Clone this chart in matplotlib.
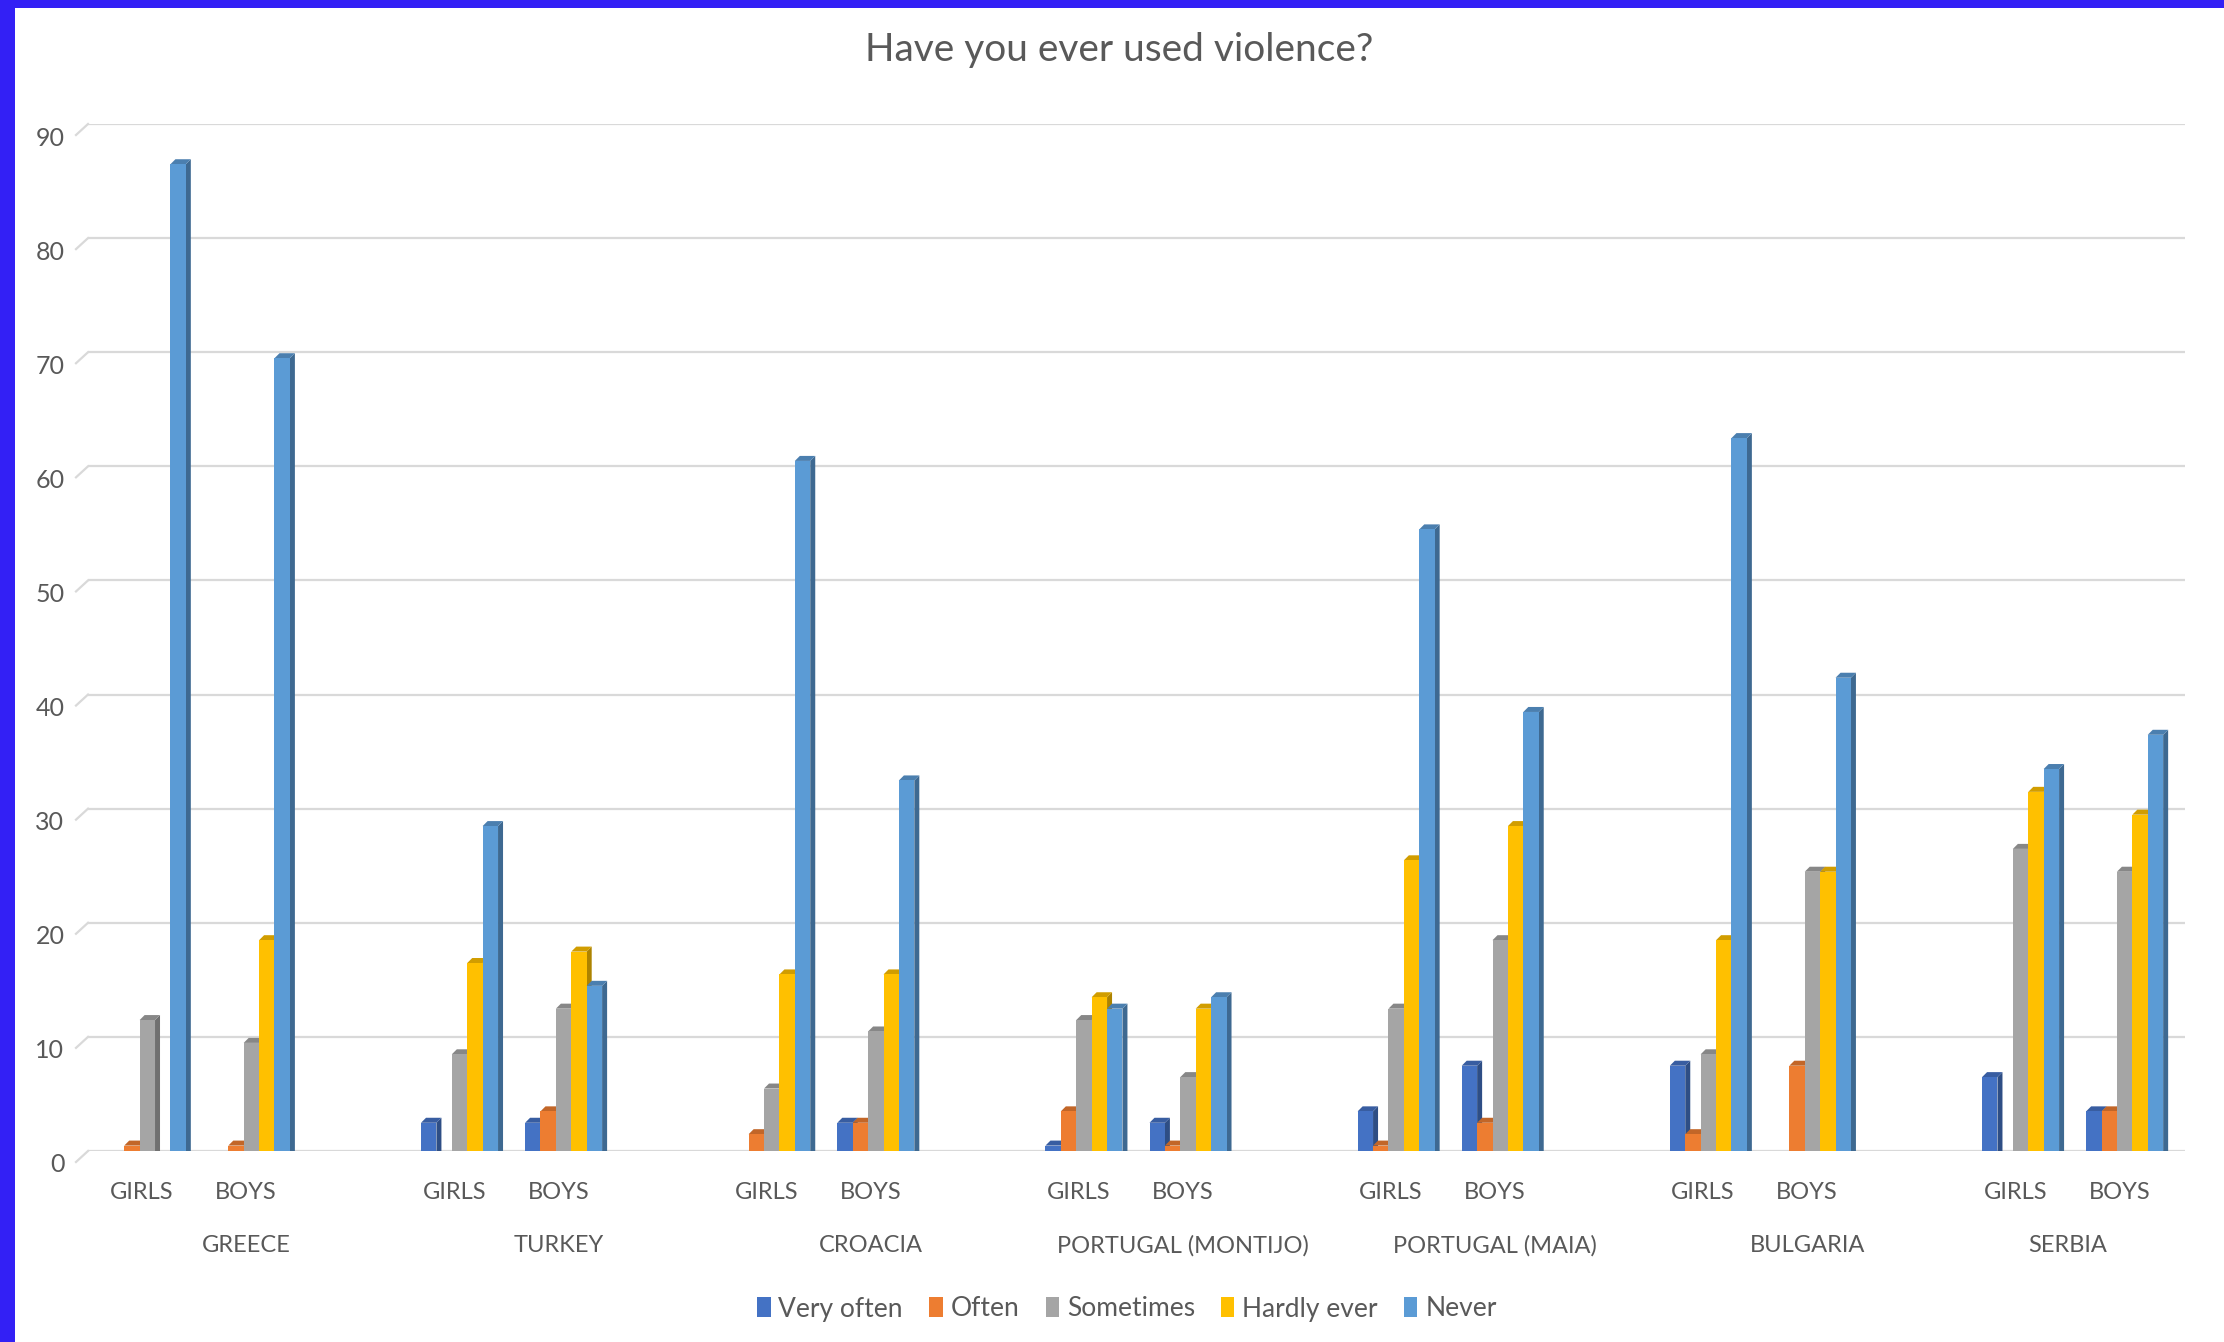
import numpy as np
import matplotlib
matplotlib.use("Agg")
import matplotlib.pyplot as plt
from matplotlib.patches import Polygon, Rectangle
from matplotlib.lines import Line2D
from matplotlib.transforms import offset_copy, ScaledTranslation, blended_transform_factory
import matplotlib.colors as mcolors

# ---------------- data ----------------
countries = ["GREECE", "TURKEY", "CROACIA", "PORTUGAL (MONTIJO)",
             "PORTUGAL (MAIA)", "BULGARIA", "SERBIA"]
genders = ["GIRLS", "BOYS"]
series_names = ["Very often", "Often", "Sometimes", "Hardly ever", "Never"]
series_colors = ["#4472C4", "#ED7D31", "#A5A5A5", "#FFC000", "#5B9BD5"]

# values per category (country x gender), order of series_names
very_often  = [0, 0, 3, 3, 0, 3, 1, 3, 4, 8, 8, 0, 7, 4]
often       = [1, 1, 0, 4, 2, 3, 4, 1, 1, 3, 2, 8, 0, 4]
sometimes   = [12, 10, 9, 13, 6, 11, 12, 7, 13, 19, 9, 25, 27, 25]
hardly_ever = [0, 19, 17, 18, 16, 16, 14, 13, 26, 29, 19, 25, 32, 30]
never       = [87, 70, 29, 15, 61, 33, 13, 14, 55, 39, 63, 42, 34, 37]
series_values = [very_often, often, sometimes, hardly_ever, never]

yticks = list(range(0, 100, 10))

# ---------------- figure ----------------
W, H, DPI = 2224, 1342, 100
fig = plt.figure(figsize=(W / DPI, H / DPI), dpi=DPI)
fig.patch.set_facecolor("white")
plt.rcParams["font.family"] = ["Lato", "DejaVu Sans"]
TXT = "#595959"

ax_left, ax_right = 88 / W, 2185 / W
ax_bottom, ax_top = 1 - 1151 / H, 1 - 124 / H
ax = fig.add_axes([ax_left, ax_bottom, ax_right - ax_left, ax_top - ax_bottom])

# slot positions: two genders per country, blank slot between countries
positions = []
for ci in range(len(countries)):
    for gi in range(len(genders)):
        positions.append(ci * 3 + gi)
positions = np.array(positions, dtype=float)
nslots = positions.max() + 1
xmin, xmax = -0.52, nslots - 0.37
ax.set_xlim(xmin, xmax)
ax.set_ylim(0, 90)

px_per_x = (ax_right - ax_left) * W / (xmax - xmin)
px_per_y = (ax_top - ax_bottom) * H / 90.0

# gridlines
for yv in yticks:
    ax.axhline(yv, color="#D9D9D9", lw=1.6, zorder=0)
    # small perspective stub at the left
    ax.add_line(Line2D([xmin - 12 / px_per_x, xmin], [yv - 11 / px_per_y, yv],
                       color="#D9D9D9", lw=1.6, clip_on=False, zorder=0))

for s in ax.spines.values():
    s.set_visible(False)

# 3D-ish bars
nser = len(series_names)
bw = 0.148
depth_x = 5 / px_per_x
depth_y = 5 / px_per_y
front_tr = offset_copy(ax.transData, fig=fig, x=0, y=-6, units="dots")

def shade(c, f):
    r, g, b = mcolors.to_rgb(c)
    return (r * f, g * f, b * f)

z = 2
for k, xc in enumerate(positions):
    for si in range(nser):
        h = series_values[si][k]
        x0 = xc + (si - (nser - 1) / 2) * bw - bw / 2 + 0.05
        x1 = x0 + bw
        col = series_colors[si]
        side = Polygon([(x1, 0), (x1 + depth_x, depth_y), (x1 + depth_x, h + depth_y), (x1, h)],
                       closed=True, facecolor=shade(col, 0.68), edgecolor="none",
                       transform=front_tr, zorder=z)
        top = Polygon([(x0, h), (x0 + depth_x, h + depth_y), (x1 + depth_x, h + depth_y), (x1, h)],
                      closed=True, facecolor=shade(col, 0.82), edgecolor="none",
                      transform=front_tr, zorder=z)
        front = Rectangle((x0, 0), bw, h, facecolor=col, edgecolor="none",
                          transform=front_tr, zorder=z + 0.5)
        ax.add_patch(side)
        ax.add_patch(top)
        ax.add_patch(front)
        z += 1

# y ticks
ax.set_yticks(yticks)
ax.set_yticklabels([str(v) for v in yticks], fontsize=18, color=TXT)
ax.tick_params(axis="y", length=0, pad=17)
for lab in ax.get_yticklabels():
    lab.set_transform(lab.get_transform() + ScaledTranslation(0, -12 / DPI, fig.dpi_scale_trans))

# x ticks (gender)
ax.set_xticks(positions)
ax.set_xticklabels(genders * len(countries), fontsize=17, color=TXT)
ax.tick_params(axis="x", length=0, pad=22)

# country labels
btr = blended_transform_factory(ax.transData, ax.transAxes)
for ci, cname in enumerate(countries):
    sl = [p for p in range(ci * 3, ci * 3 + 3) if p < nslots]
    ax.text(np.mean(sl), -0.0925, cname, transform=btr, ha="center", va="center",
            fontsize=17, color=TXT)

# title
fig.text(1119 / W, 1 - 50 / H, "Have you ever used violence?", ha="center", va="center",
         fontsize=28, color=TXT)

# legend
handles = [Rectangle((0, 0), 1, 1, facecolor=c, edgecolor="none") for c in series_colors]
fig.legend(handles, series_names, loc="center", bbox_to_anchor=(1127 / W, 1 - 1309 / H),
           ncol=5, frameon=False, fontsize=19, labelcolor=TXT,
           handlelength=0.5, handleheight=0.8, handletextpad=0.3, columnspacing=1.0)

# blue frame (top and left)
fig.patches.append(Rectangle((0, 1 - 8 / H), 1, 8 / H, transform=fig.transFigure,
                             facecolor="#3320F5", edgecolor="none", zorder=10))
fig.patches.append(Rectangle((0, 0), 15 / W, 1, transform=fig.transFigure,
                             facecolor="#3320F5", edgecolor="none", zorder=10))

fig.savefig("out.png", dpi=DPI, facecolor="white")
